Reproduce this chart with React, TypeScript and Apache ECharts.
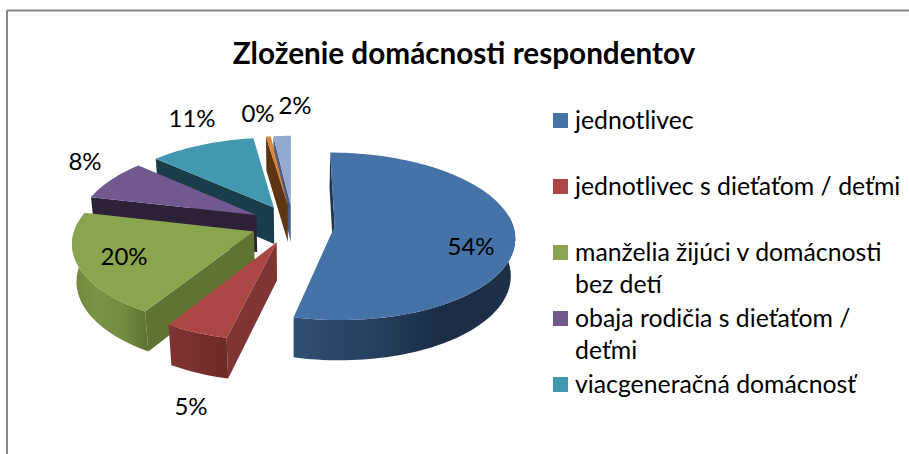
import React, { useEffect, useRef } from "react";
import * as echarts from "echarts";

const titleText = "Zloženie domácnosti respondentov";
// Seven shares: the last two have no legend row in the picture (the legend is cut off there).
const sliceValues = [53.7, 5, 20, 8, 11, 0.49, 1.81];
const legendLines = [
  ["jednotlivec"],
  ["jednotlivec s dieťaťom / deťmi"],
  ["manželia žijúci v domácnosti", "bez detí"],
  ["obaja rodičia s dieťaťom /", "deťmi"],
  ["viacgeneračná domácnosť"],
];

const topColors = ["#4572A7", "#AA4643", "#89A54E", "#71588F", "#4198AF", "#DB843D", "#93A9CF"];
const sideColors = ["#1F344E", "#803534", "#5F7333", "#2D2138", "#1A3D4A", "#5E3512", "#4A5E80"];
const wallStops = [
  ["#2F4F73", "#27415F", "#1B2D45", "#1D3049"],
  ["#7F3332", "#7C3130", "#732D2C", "#6E2B2A"],
  ["#6F893D", "#7A9446", "#728C40", "#5E7331"],
  ["#2D2138", "#2D2138", "#2D2138", "#2D2138"],
  ["#1A3D4A", "#1A3D4A", "#1A3D4A", "#1A3D4A"],
  ["#5E3512", "#5E3512", "#5E3512", "#5E3512"],
  ["#4A5E80", "#4A5E80", "#4A5E80", "#4A5E80"],
];
const labelPositions = [
  [471, 245], [191, 405], [124, 255], [85, 160], [192, 117], [258, 112], [295, 104],
];

// Projection of the tilted pie
const CX = 293, CY = 224, FX = 178, GY = 82, PERSP = 0.12, DEPTH = 38, BOTTOM_PERSP = 0.02, EXPLODE = 0.235;
const FONT = "Lato";

const total = sliceValues.reduce((a, b) => a + b, 0);
let running = 0;
const rows = sliceValues.map((v, i) => {
  const start = running / total;
  running += v;
  return [i, v, start, running / total];
});
const offsetOf = (s: number, e: number) => {
  const mid = ((s + e) / 2) * 2 * Math.PI;
  return [EXPLODE * Math.sin(mid), EXPLODE * Math.cos(mid)];
};
// far slices are painted first
const paintOrder = rows
  .slice()
  .sort((a, b) => offsetOf(b[2], b[3])[1] - offsetOf(a[2], a[3])[1]);

function renderSlice(_: any, api: any) {
  const idx = api.value(0);
  const value = api.value(1);
  const s = api.value(2) * 2 * Math.PI;
  const e = api.value(3) * 2 * Math.PI;
  const [ox, oy] = offsetOf(api.value(2), api.value(3));
  const project = (r: number, t: number, z: number) => {
    const X = ox + r * Math.sin(t);
    const Y = oy + r * Math.cos(t);
    const w = 1 + PERSP * Y + BOTTOM_PERSP * z;
    return [CX + (FX * X) / w, CY + (-GY * Y + DEPTH * z) / w];
  };
  const arc = (a: number, b: number, z: number) => {
    const n = Math.max(2, Math.ceil(Math.abs(b - a) / 0.03));
    const pts: number[][] = [];
    for (let k = 0; k <= n; k++) pts.push(project(1, a + ((b - a) * k) / n, z));
    return pts;
  };
  const A = project(0, 0, 0);
  const I = project(0.6, (s + e) / 2, 0);
  const children: any[] = [];
  const radialWall = (t: number) => {
    const O = project(1, t, 0);
    const Ex = O[0] - A[0], Ey = O[1] - A[1];
    const inside = Ex * (I[1] - A[1]) - Ey * (I[0] - A[0]);
    if (inside * Ex < 0) {
      children.push({
        type: "polygon",
        shape: { points: [A, O, project(1, t, 1), project(0, 0, 1)] },
        style: { fill: sideColors[idx] },
      });
    }
  };
  radialWall(s);
  radialWall(e);
  const wa = Math.max(s, (83 / 180) * Math.PI);
  const wb = Math.min(e, (277 / 180) * Math.PI);
  if (wb > wa) {
    const stops = wallStops[idx];
    children.push({
      type: "polygon",
      shape: { points: [...arc(wa, wb, 0), ...arc(wb, wa, 1)] },
      style: {
        fill: new echarts.graphic.LinearGradient(0, 0, 1, 0, stops.map((color, k) => ({ offset: k / (stops.length - 1), color }))),
      },
    });
  }
  children.push({
    type: "polygon",
    shape: { points: [A, ...arc(s, e, 0)] },
    style: { fill: topColors[idx] },
  });
  const [lx, ly] = labelPositions[idx];
  children.push({
    type: "text",
    z2: 10,
    x: lx,
    y: ly,
    style: {
      text: `${Math.round(value)}%`,
      fill: "#000",
      fontFamily: FONT,
      fontSize: 24,
      align: "center",
      verticalAlign: "middle",
    },
  });
  return { type: "group", children };
}

function buildGraphics() {
  const items: any[] = [
    { type: "line", shape: { x1: 7, y1: 10.5, x2: 909, y2: 10.5 }, style: { stroke: "#868686", lineWidth: 2 } },
    { type: "line", shape: { x1: 7, y1: 10, x2: 7, y2: 454 }, style: { stroke: "#868686", lineWidth: 2 } },
  ];
  legendLines.forEach((lines, i) => {
    const y = 120 + i * 66;
    items.push({ type: "rect", shape: { x: 553, y: y - 7, width: 15, height: 15 }, style: { fill: topColors[i] } });
    lines.forEach((line, j) => {
      items.push({
        type: "text",
        x: 575,
        y: y - 1 + j * 32,
        style: { text: line, fill: "#000", fontFamily: FONT, fontSize: 24.8, align: "left", verticalAlign: "middle" },
      });
    });
  });
  return items;
}

export default function App() {
  const ref = useRef<HTMLDivElement>(null);
  useEffect(() => {
    document.body.style.margin = "0";
    const chart = echarts.init(ref.current!, null, { renderer: "svg" });
    chart.setOption({
      animation: false,
      backgroundColor: "#fff",
      title: {
        text: titleText,
        left: 464,
        top: 37,
        padding: 0,
        textAlign: "center",
        textStyle: { fontFamily: FONT, fontWeight: "bold", fontSize: 29.7, color: "#000" },
      },
      graphic: buildGraphics(),
      series: [
        {
          type: "custom",
          coordinateSystem: "none",
          renderItem: renderSlice,
          data: paintOrder,
          silent: true,
        },
      ],
    });
    return () => chart.dispose();
  }, []);
  return <div ref={ref} style={{ width: 909, height: 454, position: "absolute", left: 0, top: 0 }} />;
}
